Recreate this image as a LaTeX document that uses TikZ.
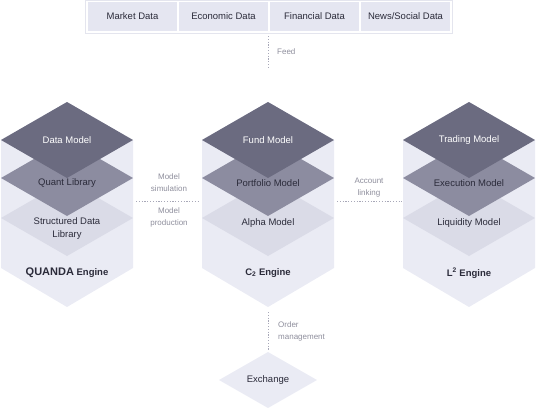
\documentclass[tikz,border=0pt]{standalone}
\usepackage{fontspec}
\setmainfont{Liberation Sans}
\usepackage{tikz}

\definecolor{topcol}{HTML}{6B6B80}
\definecolor{midcol}{HTML}{8C8CA0}
\definecolor{lowcol}{HTML}{DADBE7}
\definecolor{bgcol}{HTML}{EAEBF4}
\definecolor{boxcol}{HTML}{E5E6F1}
\definecolor{framecol}{HTML}{E4E5EE}
\definecolor{inkcol}{HTML}{2B2B3A}
\definecolor{notecol}{HTML}{8E8E9C}
\definecolor{linkcol}{HTML}{A8A8B8}

\begin{document}
\begin{tikzpicture}[x=1pt, y=-1pt,
      every node/.style = {font=\fontsize{9.5}{13}\selectfont, align=center,
        inner sep=0pt, text=inkcol},
      feedbox/.style = {fill=boxcol, minimum width=89pt, minimum height=29pt},
      note/.style = {text=notecol, font=\fontsize{8}{12}\selectfont},
      engname/.style = {font=\fontsize{9.5}{13}\selectfont\bfseries},
      link/.style = {draw=linkcol, line width=0.8pt, dash pattern=on 1.2pt off 1.6pt}]
      \useasboundingbox (0,0) rectangle (536,408);

      % data feeds
      \node[draw=framecol, fill=white, minimum width=367pt, minimum height=33pt] (feeds) at (268.5,16.5) {};
      \node[feedbox] (market) at (132.5,16.5) {Market Data};
      \node[feedbox] (economic) at (223.5,16.5) {Economic Data};
      \node[feedbox] (financial) at (314.5,16.5) {Financial Data};
      \node[feedbox] (news) at (405.5,16.5) {News/Social Data};
      \coordinate (feedend) at (268,68);
      \draw[link] (268,36) -- (feedend);
      \node[note, anchor=west] (feedlbl) at (277,52) {Feed};

      % engine stacks
      \foreach \cx in {67,268,469} {
        \fill[bgcol] (\cx,102) -- ({\cx+66},140) -- ({\cx+66},268) -- (\cx,307)
          -- ({\cx-66},268) -- ({\cx-66},140) -- cycle;
        \fill[lowcol] (\cx,180) -- ({\cx+66},218) -- (\cx,256) -- ({\cx-66},218) -- cycle;
        \fill[midcol] (\cx,140) -- ({\cx+66},178) -- (\cx,216) -- ({\cx-66},178) -- cycle;
        \fill[topcol] (\cx,102) -- ({\cx+66},140) -- (\cx,178) -- ({\cx-66},140) -- cycle;
      }

      \node[text=white] (datamodel) at (67,140) {Data Model};
      \node (quantlib) at (67,183) {Quant Library};
      \node (structlib) at (67,229) {Structured Data\\Library};
      \node[engname] (quanda) at (67,273) {{\fontsize{11}{13}\selectfont QUANDA} Engine};

      \node[text=white] (fundmodel) at (268,140) {Fund Model};
      \node (portmodel) at (268,183) {Portfolio Model};
      \node (alphamodel) at (268,223) {Alpha Model};
      \node[engname] (ctwo) at (268,273) {C\textsubscript{2} Engine};

      \node[text=white] (trademodel) at (469,140) {Trading Model};
      \node (execmodel) at (469,183) {Execution Model};
      \node (liqmodel) at (469,223) {Liquidity Model};
      \node[engname] (ltwo) at (469,273) {L\textsuperscript{2} Engine};

      % links between engines
      \coordinate (quandaR) at (136,201);
      \coordinate (ctwoL) at (200,201);
      \coordinate (ctwoR) at (337,201);
      \coordinate (ltwoL) at (402,201);
      \draw[link] (quandaR) -- (ctwoL);
      \node[note] (simlbl) at (169,183) {Model\\simulation};
      \node[note] (prodlbl) at (169,217) {Model\\production};
      \draw[link] (ctwoR) -- (ltwoL);
      \node[note] (acclbl) at (369,188) {Account\\linking};

      % exchange
      \fill[bgcol] (268,352) -- (317,380) -- (268,408) -- (219,380) -- cycle;
      \node (exchange) at (268,380) {Exchange};
      \coordinate (ctwoB) at (268,312);
      \coordinate (exchT) at (268,350);
      \draw[link] (ctwoB) -- (exchT);
      \node[note, anchor=west, align=left] (orderlbl) at (278,331) {Order\\management};
\end{tikzpicture}
\end{document}
